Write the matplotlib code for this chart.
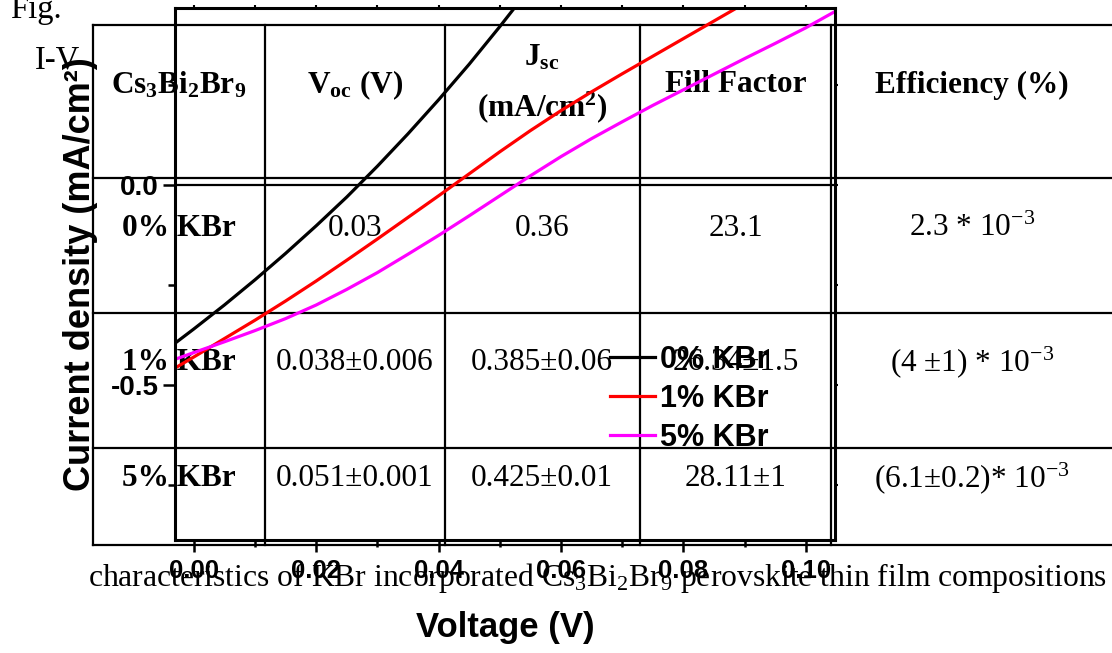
import matplotlib
matplotlib.use("Agg")
import matplotlib.pyplot as plt
from matplotlib.ticker import MultipleLocator, FormatStrFormatter

plt.rcParams['axes.unicode_minus'] = False
plt.rcParams['mathtext.fontset'] = 'custom'
plt.rcParams['mathtext.rm'] = 'Liberation Serif'
plt.rcParams['mathtext.it'] = 'Liberation Serif:italic'
plt.rcParams['mathtext.bf'] = 'Liberation Serif:bold'

# I-V curves
v_0kbr = [-0.0031, 0.000, 0.005, 0.010, 0.015, 0.020, 0.025, 0.030, 0.035,
          0.040, 0.045, 0.050, 0.054]
j_0kbr = [-0.396, -0.360, -0.300, -0.237, -0.171, -0.102, -0.030, 0.047, 0.128,
          0.213, 0.302, 0.396, 0.474]

v_1kbr = [-0.0031, 0.000, 0.005, 0.010, 0.015, 0.020, 0.025, 0.030, 0.035, 0.040,
          0.045, 0.050, 0.055, 0.060, 0.065, 0.070, 0.075, 0.080, 0.085, 0.090]
j_1kbr = [-0.458, -0.430, -0.384, -0.338, -0.290, -0.240, -0.188, -0.135, -0.081, -0.027,
          0.028, 0.083, 0.136, 0.186, 0.233, 0.278, 0.322, 0.366, 0.410, 0.454]

v_5kbr = [-0.0031, 0.000, 0.005, 0.010, 0.015, 0.020, 0.025, 0.030, 0.035, 0.040,
          0.045, 0.050, 0.055, 0.060, 0.065, 0.070, 0.075, 0.080, 0.085, 0.090,
          0.095, 0.100, 0.1048]
j_5kbr = [-0.436, -0.419, -0.392, -0.364, -0.334, -0.300, -0.261, -0.219, -0.173, -0.126,
          -0.077, -0.027, 0.023, 0.071, 0.116, 0.158, 0.199, 0.238, 0.277, 0.316,
          0.354, 0.393, 0.434]

series_labels = ['0% KBr', '1% KBr', '5% KBr']
series_colors = ['black', '#ff0000', '#ff00ff']

# table behind the plot
table_header = ['Cs$_\\mathbf{3}$Bi$_\\mathbf{2}$Br$_\\mathbf{9}$', 'V$_\\mathbf{oc}$ (V)',
                'J$_\\mathbf{sc}$\n(mA/cm$^\\mathbf{2}$)', 'Fill Factor', 'Efficiency (%)']
table_rows = ['0% KBr', '1% KBr', '5% KBr']
table_voc = ['0.03', '0.038\u00b10.006', '0.051\u00b10.001']
table_jsc = ['0.36', '0.385\u00b10.06', '0.425\u00b10.01']
table_ff = ['23.1', '26.34\u00b11.5', '28.11\u00b11']
table_eff = ['2.3 * 10$^{-3}$', '(4 \u00b11) * 10$^{-3}$', '(6.1\u00b10.2)* 10$^{-3}$']

W, H = 1112, 653
fig = plt.figure(figsize=(W / 100, H / 100), dpi=100)

bg = fig.add_axes([0, 0, 1, 1], zorder=0)
bg.set_xlim(0, W)
bg.set_ylim(H, 0)
bg.axis('off')

col_x = [93, 265, 445, 640, 831]
row_y = [25, 178, 313, 448, 545]
for x in col_x:
    bg.plot([x, x], [row_y[0], row_y[-1]], color='black', lw=1.6)
for y in row_y:
    bg.plot([col_x[0], W], [y, y], color='black', lw=1.6)

serif = 'Liberation Serif'
fs_tab = 22.5
col_c = [179, 355, 542, 736, 972]
hdr_y = [85, 85, 84, 85, 85]
for i, txt in enumerate(table_header):
    bg.text(col_c[i], hdr_y[i], txt, ha='center', va='center', family=serif,
            fontsize=fs_tab, fontweight='bold', linespacing=1.6)
row_c = [228, 362, 478]
for r in range(3):
    bg.text(col_c[0], row_c[r], table_rows[r], ha='center', va='center', family=serif,
            fontsize=fs_tab, fontweight='bold')
    for c, col in enumerate([table_voc, table_jsc, table_ff, table_eff]):
        bg.text(col_c[c + 1], row_c[r], col[r], ha='center', va='center', family=serif,
                fontsize=fs_tab)

bg.text(10, 10, 'Fig.', ha='left', va='center', family=serif, fontsize=23.5)
bg.text(35, 60, 'I-V', ha='left', va='center', family=serif, fontsize=23.5)
bg.text(88, 578, 'characteristics of KBr incorporated Cs$_3$Bi$_2$Br$_9$ perovskite thin film compositions',
        ha='left', va='center', family=serif, fontsize=22.8)

# plot on top
ax = fig.add_axes([175 / W, 1 - 540 / H, 660 / W, 532 / H], zorder=2)
ax.patch.set_alpha(0)
for v, j, lab, col in zip([v_0kbr, v_1kbr, v_5kbr], [j_0kbr, j_1kbr, j_5kbr],
                          series_labels, series_colors):
    ax.plot(v, j, color=col, lw=2.3, label=lab)
ax.axhline(0, color='black', lw=1.6, zorder=1)

ax.set_xlim(-0.00307, 0.10477)
ax.set_ylim(-0.8875, 0.4425)
ax.xaxis.set_major_locator(MultipleLocator(0.02))
ax.xaxis.set_minor_locator(MultipleLocator(0.01))
ax.yaxis.set_major_locator(MultipleLocator(0.5))
ax.yaxis.set_minor_locator(MultipleLocator(0.25))
ax.xaxis.set_major_formatter(FormatStrFormatter('%.2f'))
ax.yaxis.set_major_formatter(FormatStrFormatter('%.1f'))
for s in ax.spines.values():
    s.set_linewidth(2.2)
ax.tick_params(which='major', direction='out', length=8.5, width=1.8)
ax.tick_params(which='minor', direction='out', length=5, width=1.8)
ax.tick_params(axis='x', which='major', pad=5, labelsize=18.5)
ax.tick_params(axis='y', which='major', pad=3, labelsize=20)
for lab in ax.get_xticklabels() + ax.get_yticklabels():
    lab.set_fontweight('bold')
    lab.set_family('Liberation Sans')

top = ax.secondary_xaxis('top')
top.xaxis.set_major_locator(MultipleLocator(0.02))
top.xaxis.set_minor_locator(MultipleLocator(0.01))
top.tick_params(which='both', direction='out', length=2.5, width=1.5, labeltop=False)
right = ax.secondary_yaxis('right')
right.yaxis.set_major_locator(MultipleLocator(0.5))
right.yaxis.set_minor_locator(MultipleLocator(0.25))
right.tick_params(which='both', direction='out', length=2.5, width=1.5, labelright=False)
for sec in (top, right):
    for s in sec.spines.values():
        s.set_visible(False)

ax.set_xlabel('Voltage (V)', family='Liberation Sans', fontweight='bold', fontsize=25)
ax.xaxis.set_label_coords(0.5, -0.133)
ax.set_ylabel('Current density (mA/cm\u00b2)', family='Liberation Sans', fontweight='bold',
              fontsize=26)
ax.yaxis.label.set_va('center')
ax.yaxis.set_label_coords(-0.143, 0.5)

leg = ax.legend(loc='upper left', bbox_to_anchor=(0.659, 0.367), frameon=False,
                borderpad=0, borderaxespad=0, handlelength=1.47, handletextpad=0.16,
                labelspacing=0.3, prop={'family': 'Liberation Sans', 'weight': 'bold', 'size': 22})

fig.savefig('out.png', dpi=100)
